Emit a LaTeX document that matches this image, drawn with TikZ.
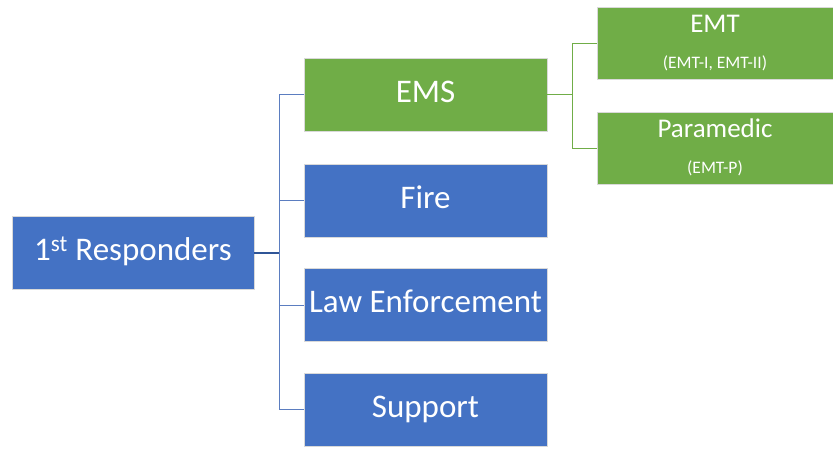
\documentclass[tikz,border=0pt]{standalone}
\usepackage{fontspec}
\setmainfont{Carlito}
\definecolor{cblue}{HTML}{4472C4}
\definecolor{cgreen}{HTML}{70AD47}
\definecolor{cline}{HTML}{5B7DC0}
\definecolor{cdark}{HTML}{2F5597}
\begin{document}
\begin{tikzpicture}[x=1pt,y=-1pt,
  box/.style={rectangle, inner sep=0pt, text=white, draw=white!85!black, line width=0.4pt},
  mainbox/.style={box, minimum width=243pt, minimum height=73pt,
    font=\fontsize{33}{38}\selectfont, text height=22.5pt, text depth=7pt},
  bluebox/.style={mainbox, fill=cblue},
  greenbox/.style={mainbox, fill=cgreen},
  subbox/.style={box, fill=cgreen, minimum width=236pt, minimum height=72pt},
  bigtxt/.style={anchor=base, text=white, inner sep=0pt, font=\fontsize{27}{31}\selectfont},
  smalltxt/.style={anchor=base, text=white, inner sep=0pt, font=\fontsize{17.5}{21}\selectfont},
  bconn/.style={draw=cline, line width=0.9pt},
  rconn/.style={draw=cdark, line width=1.6pt},
  gconn/.style={draw=cgreen, line width=1pt}]
\useasboundingbox (0,0) rectangle (833,450);

\node[bluebox, minimum width=242pt] (root) at (133,253) {1\textsuperscript{st} Responders};
\node[greenbox] (ems) at (425.5,94.5) {EMS};
\node[bluebox] (fire) at (425.5,200.5) {Fire};
\node[bluebox] (law) at (425.5,305) {Law Enforcement};
\node[bluebox] (sup) at (425.5,409.5) {Support};

\node[subbox] (emt) at (715,43) {};
\node[bigtxt] (emtA) at ([yshift=11pt]emt.center) {EMT};
\node[smalltxt] (emtB) at ([yshift=-25pt]emt.center) {(EMT-I, EMT-II)};
\node[subbox] (para) at (715,148) {};
\node[bigtxt] (paraA) at ([yshift=11pt]para.center) {Paramedic};
\node[smalltxt] (paraB) at ([yshift=-25pt]para.center) {(EMT-P)};

\coordinate (b) at (279,253);
\coordinate (g) at (572,94.5);

\draw[bconn] (b) |- (ems.west);
\draw[bconn] (b) |- (fire.west);
\draw[bconn] (b) |- (law.west);
\draw[bconn] (b) |- (sup.west);
\draw[rconn] (root.east) -- (b);

\draw[gconn] (ems.east) -- (g);
\draw[gconn] (g) |- (emt.west);
\draw[gconn] (g) |- (para.west);
\end{tikzpicture}
\end{document}
